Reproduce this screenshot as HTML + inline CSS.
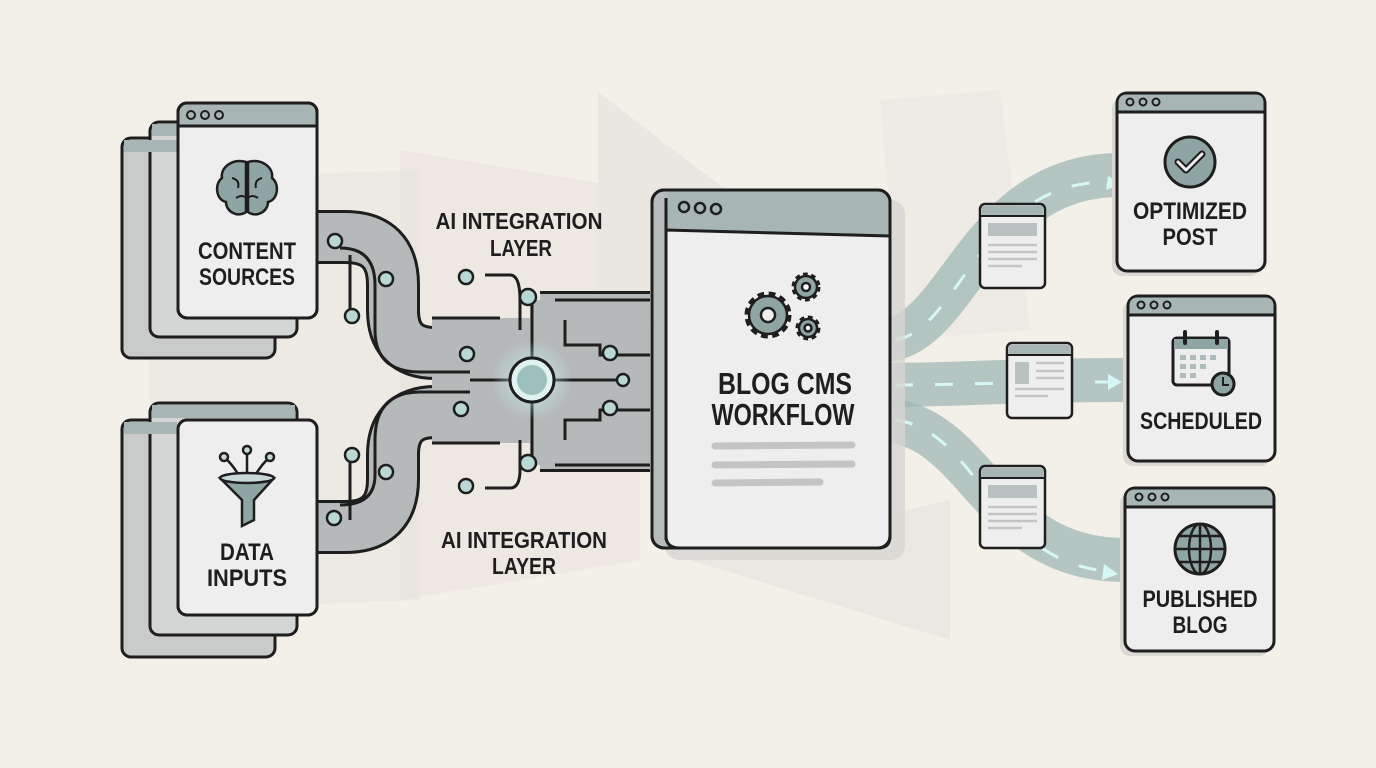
<!DOCTYPE html>
<html><head><meta charset="utf-8"><style>
html,body{margin:0;padding:0;background:#f3f0e8;}
svg{display:block}
text{font-family:"Liberation Sans Narrow","Liberation Sans",sans-serif;font-weight:bold;fill:#1e1e1e;}
</style></head><body>
<svg width="1376" height="768" viewBox="0 0 1376 768" xmlns="http://www.w3.org/2000/svg">
<defs>
<radialGradient id="glow" cx="0.5" cy="0.5" r="0.5">
<stop offset="0" stop-color="#c8f0ec" stop-opacity="0.9"/>
<stop offset="1" stop-color="#c8f0ec" stop-opacity="0"/>
</radialGradient>
</defs>
<rect width="1376" height="768" fill="#f3f0e8"/>
<polygon points="598,92 870,300 598,330" fill="#e4e2dc" opacity="0.7"/>
<polygon points="400,150 640,190 640,560 400,600" fill="#e9e6df" opacity="0.7"/>
<polygon points="690,560 950,640 950,500" fill="#e4e2dc" opacity="0.6"/>
<polygon points="880,100 1000,90 1030,330 900,340" fill="#ebe8e1" opacity="0.6"/>
<polygon points="150,180 420,170 420,600 150,610" fill="#e6e3dc" opacity="0.5"/>

<g fill="none" stroke="#9db5b3" stroke-opacity="0.72" stroke-width="44" stroke-linecap="butt">
<path d="M888,340 C960,330 980,175 1120,175"/>
<path d="M888,385 C960,385 1000,380 1130,380"/>
<path d="M888,420 C980,430 990,560 1125,560"/>
</g>
<g fill="none" stroke="#d6f7f3" stroke-width="3" stroke-dasharray="18 22">
<path d="M895,340 C960,330 980,180 1110,182"/>
<path d="M895,385 C960,385 1000,382 1115,382"/>
<path d="M895,420 C980,430 990,565 1115,572"/>
</g>
<g fill="#d6f7f3">
<polygon points="1108,176 1122,184 1106,190"/>
<polygon points="1108,374 1122,382 1108,390"/>
<polygon points="1104,564 1118,574 1102,580"/>
</g>

<g fill="none" stroke-linejoin="round">
<g stroke="#1e1e1e" stroke-width="54">
<path d="M317,237 H345 Q393,237 393,285 V310 Q393,353 436,353 H520"/>
<path d="M317,527 H345 Q393,527 393,479 V455 Q393,412 436,412 H520"/>
<path d="M540,318 H650 M540,350 H650 M560,412 H650 M540,445 H650"/>
</g>
<g stroke="#b6b9ba" stroke-width="48">
<path d="M317,237 H345 Q393,237 393,285 V310 Q393,353 436,353 H520"/>
<path d="M317,527 H345 Q393,527 393,479 V455 Q393,412 436,412 H520"/>
<path d="M540,318 H650 M540,350 H650 M560,412 H650 M540,445 H650"/>
</g>
</g>
<rect x="432" y="318" width="100" height="125" fill="#b6b9ba"/>
<rect x="530" y="300" width="120" height="165" fill="#b6b9ba"/>
<path d="M432,318 H500 M432,443 H500 M555,300 H650 M555,465 H650" stroke="#1e1e1e" stroke-width="3"/>
<g fill="none" stroke="#1e1e1e" stroke-width="3">
<path d="M340,248 Q375,248 375,285 V330 Q375,372 420,372 H470"/>
<path d="M340,505 Q375,505 375,475 V440 Q375,392 420,392 H470"/>
<path d="M350,255 V318 M350,458 V520"/>
<path d="M485,275 H510 Q520,275 520,300 V330 M485,488 H510 Q520,488 520,470 V440"/>
<path d="M532,300 V460 M470,380 H620"/>
<path d="M565,320 V345 H600 V355 H650 M565,440 V420 H600 V410 H650"/>
</g>
<circle cx="532" cy="380" r="40" fill="url(#glow)"/>
<circle cx="532" cy="380" r="22" fill="#dff4f1" stroke="#1e1e1e" stroke-width="3"/>
<circle cx="532" cy="380" r="15" fill="#9cc0bc"/>
<g fill="#b8d8d4" stroke="#1e1e1e" stroke-width="2.5">
<circle cx="335" cy="241" r="7"/><circle cx="386" cy="279" r="7"/><circle cx="352" cy="316" r="7"/>
<circle cx="466" cy="277" r="7"/><circle cx="528" cy="297" r="8"/><circle cx="467" cy="354" r="7"/>
<circle cx="610" cy="353" r="7"/><circle cx="623" cy="380" r="6"/><circle cx="610" cy="408" r="7"/>
<circle cx="461" cy="409" r="7"/><circle cx="386" cy="472" r="7"/><circle cx="352" cy="455" r="7"/>
<circle cx="528" cy="463" r="8"/><circle cx="466" cy="486" r="7"/><circle cx="334" cy="518" r="7"/>
</g>

<g stroke="#1e1e1e" stroke-width="3">
<rect x="122" y="138" width="153" height="220" rx="9" fill="#c9cbcb"/>
<rect x="150" y="122" width="147" height="215" rx="9" fill="#d4d6d6"/>
<rect x="178" y="103" width="139" height="215" rx="9" fill="#eeeeee"/>
<rect x="122" y="420" width="153" height="237" rx="9" fill="#c9cbcb"/>
<rect x="150" y="403" width="147" height="232" rx="9" fill="#d4d6d6"/>
<rect x="178" y="420" width="139" height="195" rx="9" fill="#eeeeee"/>
</g>
<rect x="124" y="140" width="53" height="12" fill="#a7b6b4"/>
<rect x="152" y="124" width="25" height="12" fill="#a7b6b4"/>
<rect x="124" y="422" width="53" height="12" fill="#a7b6b4"/>
<rect x="152" y="405" width="143" height="13" fill="#a7b6b4"/>
<rect x="178" y="420" width="139" height="195" rx="9" fill="#eeeeee" stroke="#1e1e1e" stroke-width="3"/>
<path d="M180,104.5 H308 Q315.5,104.5 315.5,112 V125 H179.5 V112 Q179.5,104.5 187,104.5Z" fill="#a7b6b4"/>
<line x1="179" y1="126" x2="316" y2="126" stroke="#1e1e1e" stroke-width="3"/>
<rect x="178" y="103" width="139" height="215" rx="9" fill="none" stroke="#1e1e1e" stroke-width="3"/>
<g fill="none" stroke="#1e1e1e" stroke-width="2"><circle cx="191" cy="115" r="4"/><circle cx="205" cy="115" r="4"/><circle cx="219" cy="115" r="4"/></g>
<g stroke="#1e1e1e" stroke-width="2.5" fill="#8fa5a3">
<path d="M246,162 C232,158 220,168 222,178 C214,184 216,200 226,202 C226,212 238,218 246,212Z"/>
<path d="M248,162 C262,158 274,168 272,178 C280,184 278,200 268,202 C268,212 256,218 248,212Z"/>
</g>
<path d="M232,178 q8,2 6,10 M236,198 q6,-4 10,0 M262,178 q-8,2 -6,10 M258,198 q-6,-4 -10,0" stroke="#1e1e1e" stroke-width="2" fill="none"/>
<text x="247" y="259" font-size="24" text-anchor="middle" textLength="98" lengthAdjust="spacingAndGlyphs">CONTENT</text>
<text x="247" y="285" font-size="24" text-anchor="middle" textLength="96" lengthAdjust="spacingAndGlyphs">SOURCES</text>
<g stroke="#1e1e1e" stroke-width="2.5">
<path d="M220,478 Q247,470 274,478 L254,500 V520 L242,526 V500Z" fill="#8fa5a3"/>
<ellipse cx="247" cy="478" rx="27" ry="5" fill="#c9d9d7"/>
<path d="M238,474 Q232,464 225,458 M247,474 V452 M256,474 Q262,464 269,458" fill="none"/>
<circle cx="224" cy="457" r="4" fill="#c9d9d7"/><circle cx="247" cy="450" r="4" fill="#c9d9d7"/><circle cx="270" cy="457" r="4" fill="#c9d9d7"/>
</g>
<text x="247" y="560" font-size="24" text-anchor="middle" textLength="54" lengthAdjust="spacingAndGlyphs">DATA</text>
<text x="247" y="586" font-size="24" text-anchor="middle" textLength="80" lengthAdjust="spacingAndGlyphs">INPUTS</text>

<text x="519" y="229" font-size="23" text-anchor="middle" textLength="167" lengthAdjust="spacingAndGlyphs">AI INTEGRATION</text>
<text x="521" y="256" font-size="23" text-anchor="middle" textLength="62" lengthAdjust="spacingAndGlyphs">LAYER</text>
<text x="524" y="548" font-size="23" text-anchor="middle" textLength="166" lengthAdjust="spacingAndGlyphs">AI INTEGRATION</text>
<text x="524" y="574" font-size="23" text-anchor="middle" textLength="64" lengthAdjust="spacingAndGlyphs">LAYER</text>

<rect x="665" y="200" width="240" height="360" rx="14" fill="#d7d6d2" opacity="0.8"/>
<rect x="652" y="190" width="238" height="358" rx="12" fill="#b7bbbb" stroke="#1e1e1e" stroke-width="3"/>
<path d="M668,190 H878 Q890,190 890,202 V235 L667,228Z" fill="#a7b6b4"/>
<path d="M666,230 L890,236 V536 Q890,548 878,548 H680 Q666,548 666,536Z" fill="#eeeeee" stroke="#1e1e1e" stroke-width="3"/>
<path d="M666,198 V540" stroke="#1e1e1e" stroke-width="3"/>
<rect x="652" y="190" width="238" height="358" rx="12" fill="none" stroke="#1e1e1e" stroke-width="3"/>
<g fill="none" stroke="#1e1e1e" stroke-width="2.5"><circle cx="684" cy="207" r="5"/><circle cx="700" cy="208" r="5"/><circle cx="716" cy="209" r="5"/></g>
<g fill="#8fa5a3" stroke="#1e1e1e" stroke-width="2.5">
<circle cx="768" cy="315" r="19" stroke-dasharray="6 4" stroke-width="9" stroke="#1e1e1e"/>
<circle cx="768" cy="315" r="19"/>
<circle cx="806" cy="287" r="11" stroke-dasharray="4 3" stroke-width="7"/>
<circle cx="806" cy="287" r="11"/>
<circle cx="808" cy="328" r="9" stroke-dasharray="4 3" stroke-width="7"/>
<circle cx="808" cy="328" r="9"/>
<circle cx="768" cy="315" r="7" fill="#eee"/><circle cx="806" cy="287" r="4" fill="#fff"/><circle cx="808" cy="328" r="3.5" fill="#eee"/>
</g>
<text x="785" y="394" font-size="31" text-anchor="middle" textLength="134" lengthAdjust="spacingAndGlyphs">BLOG CMS</text>
<text x="783" y="425" font-size="31" text-anchor="middle" textLength="143" lengthAdjust="spacingAndGlyphs">WORKFLOW</text>
<g stroke="#c4c4c4" stroke-width="7" stroke-linecap="round">
<line x1="715" y1="446" x2="852" y2="445"/><line x1="715" y1="465" x2="852" y2="464"/><line x1="715" y1="483" x2="820" y2="482"/>
</g>

<g stroke="#1e1e1e" stroke-width="2.5">
<rect x="980" y="204" width="65" height="84" rx="5" fill="#eeeeee"/>
<rect x="1007" y="343" width="65" height="75" rx="5" fill="#eeeeee"/>
<rect x="980" y="466" width="65" height="82" rx="5" fill="#eeeeee"/>
</g>
<g fill="#a7b6b4"><rect x="982" y="206" width="61" height="9"/><rect x="1009" y="345" width="61" height="9"/><rect x="982" y="468" width="61" height="9"/></g>
<g stroke="#1e1e1e" stroke-width="2"><line x1="981" y1="216" x2="1044" y2="216"/><line x1="1008" y1="355" x2="1071" y2="355"/><line x1="981" y1="478" x2="1044" y2="478"/></g>
<g fill="#b9c2c1"><rect x="988" y="223" width="49" height="13"/><rect x="1015" y="362" width="14" height="22"/><rect x="988" y="485" width="49" height="13"/></g>
<g stroke="#c4c4c4" stroke-width="2.5">
<path d="M988,245 H1037 M988,252 H1037 M988,259 H1037 M988,266 H1022"/>
<path d="M1036,363 H1064 M1036,371 H1064 M1036,378 H1064 M1015,389 H1064 M1015,396 H1048"/>
<path d="M988,507 H1037 M988,514 H1037 M988,521 H1037 M988,528 H1022"/>
</g>

<g>
<rect x="1112" y="98" width="148" height="178" rx="10" fill="#d9d8d3"/>
<rect x="1117" y="93" width="148" height="178" rx="10" fill="#eeeeee" stroke="#1e1e1e" stroke-width="3"/>
<path d="M1127,94.5 H1255 Q1263.5,94.5 1263.5,103 V111 H1118.5 V103 Q1118.5,94.5 1127,94.5Z" fill="#a7b6b4"/>
<line x1="1118" y1="112" x2="1264" y2="112" stroke="#1e1e1e" stroke-width="3"/>
<g fill="none" stroke="#1e1e1e" stroke-width="2"><circle cx="1130" cy="102" r="3.5"/><circle cx="1143" cy="102" r="3.5"/><circle cx="1156" cy="102" r="3.5"/></g>
<circle cx="1190" cy="162" r="25" fill="#8fa5a3" stroke="#1e1e1e" stroke-width="3"/>
<path d="M1178,162 l8,8 l16,-16" fill="none" stroke="#1e1e1e" stroke-width="7" stroke-linecap="round" stroke-linejoin="round"/>
<path d="M1178,162 l8,8 l16,-16" fill="none" stroke="#eee" stroke-width="3" stroke-linecap="round" stroke-linejoin="round"/>
<text x="1190" y="219" font-size="24" text-anchor="middle" textLength="114" lengthAdjust="spacingAndGlyphs">OPTIMIZED</text>
<text x="1190" y="245" font-size="24" text-anchor="middle" textLength="55" lengthAdjust="spacingAndGlyphs">POST</text>
</g>
<g>
<rect x="1123" y="301" width="147" height="165" rx="10" fill="#d9d8d3"/>
<rect x="1128" y="296" width="147" height="165" rx="10" fill="#eeeeee" stroke="#1e1e1e" stroke-width="3"/>
<path d="M1138,297.5 H1265 Q1273.5,297.5 1273.5,306 V314 H1129.5 V306 Q1129.5,297.5 1138,297.5Z" fill="#a7b6b4"/>
<line x1="1129" y1="315" x2="1274" y2="315" stroke="#1e1e1e" stroke-width="3"/>
<g fill="none" stroke="#1e1e1e" stroke-width="2"><circle cx="1141" cy="305" r="3.5"/><circle cx="1154" cy="305" r="3.5"/><circle cx="1167" cy="305" r="3.5"/></g>
<rect x="1173" y="338" width="56" height="47" rx="4" fill="#eee" stroke="#1e1e1e" stroke-width="3"/>
<rect x="1174" y="339" width="54" height="10" fill="#8fa5a3"/>
<path d="M1185,332 V343 M1217,332 V343" stroke="#1e1e1e" stroke-width="4" stroke-linecap="round"/>
<g fill="#b0bcbb"><rect x="1180" y="355" width="6" height="5"/><rect x="1190" y="355" width="6" height="5"/><rect x="1200" y="355" width="6" height="5"/><rect x="1210" y="355" width="6" height="5"/><rect x="1180" y="364" width="6" height="5"/><rect x="1190" y="364" width="6" height="5"/><rect x="1200" y="364" width="6" height="5"/><rect x="1180" y="373" width="6" height="5"/><rect x="1190" y="373" width="6" height="5"/></g>
<circle cx="1223" cy="384" r="11" fill="#8fa5a3" stroke="#1e1e1e" stroke-width="3"/>
<path d="M1223,377 V385 H1229" stroke="#1e1e1e" stroke-width="2" fill="none"/>
<text x="1201" y="429" font-size="24" text-anchor="middle" textLength="122" lengthAdjust="spacingAndGlyphs">SCHEDULED</text>
</g>
<g>
<rect x="1120" y="493" width="149" height="163" rx="10" fill="#d9d8d3"/>
<rect x="1125" y="488" width="149" height="163" rx="10" fill="#eeeeee" stroke="#1e1e1e" stroke-width="3"/>
<path d="M1135,489.5 H1264 Q1272.5,489.5 1272.5,498 V506 H1126.5 V498 Q1126.5,489.5 1135,489.5Z" fill="#a7b6b4"/>
<line x1="1126" y1="507" x2="1273" y2="507" stroke="#1e1e1e" stroke-width="3"/>
<g fill="none" stroke="#1e1e1e" stroke-width="2"><circle cx="1139" cy="497" r="3.5"/><circle cx="1152" cy="497" r="3.5"/><circle cx="1165" cy="497" r="3.5"/></g>
<circle cx="1200" cy="549" r="25" fill="#8fa5a3" stroke="#1e1e1e" stroke-width="3"/>
<g fill="none" stroke="#1e1e1e" stroke-width="2.5"><ellipse cx="1200" cy="549" rx="11" ry="25"/><line x1="1200" y1="524" x2="1200" y2="574"/><line x1="1175" y1="549" x2="1225" y2="549"/><path d="M1179,536 H1221 M1179,562 H1221"/></g>
<text x="1200" y="607" font-size="24" text-anchor="middle" textLength="115" lengthAdjust="spacingAndGlyphs">PUBLISHED</text>
<text x="1200" y="633" font-size="24" text-anchor="middle" textLength="55" lengthAdjust="spacingAndGlyphs">BLOG</text>
</g>
</svg>
</body></html>
